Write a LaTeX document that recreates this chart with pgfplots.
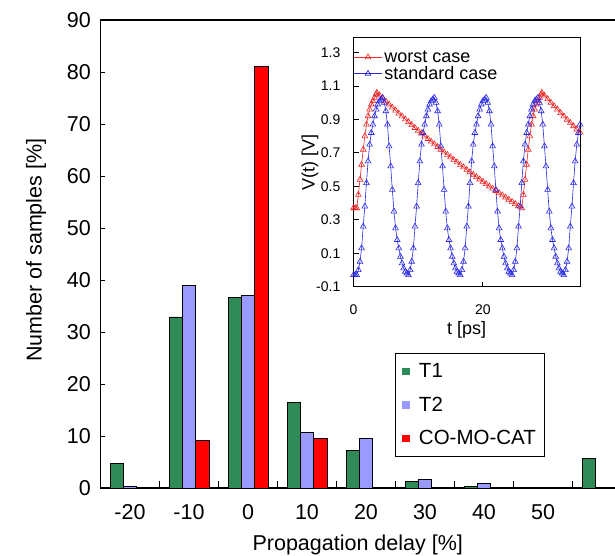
\documentclass[border=0pt]{standalone}
\usepackage{fontspec}
\setmainfont{Liberation Sans}
\usepackage{pgfplots}
\pgfplotsset{compat=1.18}
\definecolor{tgreen}{RGB}{46,139,87}
\definecolor{tblue}{RGB}{153,153,255}
\definecolor{tred}{RGB}{255,0,0}
\definecolor{lblue}{RGB}{40,40,230}
\definecolor{lred}{RGB}{240,35,35}
\newcommand\mainfs{\fontsize{21.5}{24}\selectfont}
\newcommand\legfs{\fontsize{20.5}{23}\selectfont}
\newcommand\tickfs{\fontsize{14}{16}\selectfont}
\newcommand\insetfs{\fontsize{18}{20}\selectfont}
\pgfplotsset{longline/.style={legend image code/.code={%
  \draw[mark repeat=2,mark phase=2] plot coordinates {(0pt,0pt) (14pt,0pt) (28pt,0pt)};}}}
\begin{document}
\begin{tikzpicture}
\begin{axis}[
  at={(0pt,0pt)}, anchor=south west,
  scale only axis, width=531pt, height=468pt,
  xmin=-25, xmax=65, ymin=0, ymax=90,
  xtick={-20,-10,...,50},
  xticklabels={-20,-10,0,10,20,30,40,50},
  minor xtick={-15,-5,...,55},
  ytick={0,10,...,90},
  yticklabels={0,10,20,30,40,50,60,70,80,90},
  tick align=inside, xtick pos=bottom, ytick pos=left,
  major tick length=5pt, minor tick length=7pt,
  major x tick style={draw=none},
  minor x tick style={black, line width=1pt},
  major y tick style={black, line width=1pt},
  axis line style={line width=1.2pt},
  ticklabel style={font=\mainfs, inner sep=0pt},
  xticklabel style={yshift=-16.7pt},
  yticklabel style={xshift=-9.5pt},
  xlabel={Propagation delay [\%]},
  ylabel={Number of samples [\%]},
  label style={font=\mainfs},
  xlabel style={at={(axis description cs:0.4845,-0.1218)}, anchor=center},
  ylabel style={at={(axis description cs:-0.1215,0.508)}, anchor=center},
  every axis plot post/.append style={legend image code/.code={\path[fill,draw=none] (0pt,-3.8pt) rectangle (7.5pt,3.8pt);}},
  legend style={at={(0.5546,0.2878)}, anchor=north west, draw=black, line width=1pt, fill=white, font=\legfs, inner xsep=7pt, inner ysep=8pt, row sep=13.7pt, column sep=7pt},
  legend cell align=left,
]
\addplot[ybar, bar width=2.25, bar shift=-2.25, fill=tgreen, draw=black, line width=0.8pt]
  coordinates {(-20,4.75) (-10,32.9) (0,36.7) (10,16.5) (20,7.2) (30,1.2) (40,0.3) (60,5.7)};
\addlegendentry{T1}
\addplot[ybar, bar width=2.25, bar shift=0, fill=tblue, draw=black, line width=0.8pt]
  coordinates {(-20,0.3) (-10,39.0) (0,37.0) (10,10.7) (20,9.5) (30,1.7) (40,0.9)};
\addlegendentry{T2}
\addplot[ybar, bar width=2.25, bar shift=2.25, fill=tred, draw=black, line width=0.8pt]
  coordinates {(-10,9.2) (0,81.0) (10,9.55)};
\addlegendentry{CO-MO-CAT}
\end{axis}

\begin{axis}[
  at={(253pt,201.3pt)}, anchor=south west,
  scale only axis, width=226.5pt, height=249.2pt,
  xmin=0, xmax=35, ymin=-0.1, ymax=1.39,
  xtick={0,20}, xticklabels={0,20},
  ytick={-0.1,0.1,0.3,0.5,0.7,0.9,1.1,1.3},
  yticklabels={-0.1,0.1,0.3,0.5,0.7,0.9,1.1,1.3},
  tick align=inside, xtick pos=bottom, ytick pos=left,
  major tick length=5pt,
  tick style={black, line width=0.9pt},
  axis line style={line width=1pt},
  axis background/.style={fill=white},
  ticklabel style={font=\tickfs, inner sep=0pt},
  xticklabel style={yshift=-18.3pt},
  yticklabel style={xshift=-13pt},
  xlabel={t [ps]}, ylabel={V(t) [V]},
  label style={font=\insetfs},
  xlabel style={at={(axis description cs:0.5,-0.1726)}, anchor=center},
  ylabel style={at={(axis description cs:-0.192,0.5)}, anchor=center},
  legend style={at={(0,1)}, anchor=north west, xshift=0pt, yshift=-10.9pt, draw=none, fill=none, inner xsep=0pt, inner ysep=0pt, row sep=-1.4pt, font=\insetfs},
  legend cell align=left,
]
\addplot[lred, line width=0.6pt, mark=triangle, mark size=3.3pt, mark options={solid, line width=0.6pt}, longline] table {
t V
0 0.37
0.25 0.37
0.5 0.37
0.75 0.45
1.0 0.54
1.25 0.63
1.5 0.72
1.75 0.80
2.0 0.87
2.25 0.92
2.5 0.96
2.75 0.99
3.0 1.01
3.25 1.03
3.5 1.05
3.6 1.06
4.0 1.045
4.5 1.027
5.0 1.008
5.5 0.990
6.0 0.972
6.5 0.954
7.0 0.936
7.5 0.919
8.0 0.901
8.5 0.884
9.0 0.867
9.5 0.850
10.0 0.833
10.5 0.817
11.0 0.800
11.5 0.784
12.0 0.768
12.5 0.752
13.0 0.736
13.5 0.720
14.0 0.704
14.5 0.689
15.0 0.674
15.5 0.659
16.0 0.644
16.5 0.629
17.0 0.614
17.5 0.599
18.0 0.585
18.5 0.570
19.0 0.556
19.5 0.542
20.0 0.528
20.5 0.514
21.0 0.500
21.5 0.487
22.0 0.473
22.5 0.460
23.0 0.447
23.5 0.434
24.0 0.421
24.5 0.408
25.0 0.395
25.5 0.382
26.0 0.370
26.25 0.45
26.5 0.54
26.75 0.63
27.0 0.72
27.25 0.80
27.5 0.87
27.75 0.92
28.0 0.96
28.25 0.99
28.5 1.01
28.75 1.03
29.0 1.05
29.1 1.06
29.5 1.043
30.0 1.022
30.5 1.001
31.0 0.980
31.5 0.960
32.0 0.939
32.5 0.919
33.0 0.899
33.5 0.880
34.0 0.860
34.5 0.841
35.0 0.822
};
\addlegendentry{worst case}
\addplot[lblue, line width=0.6pt, mark=triangle, mark size=3.3pt, mark options={solid, line width=0.6pt}, longline] table {
t V
0 -0.03
0.25 -0.03
0.5 -0.03
0.75 0.00
1.0 0.05
1.25 0.13
1.5 0.26
1.75 0.38
2.0 0.52
2.25 0.65
2.5 0.75
2.75 0.82
3.0 0.87
3.25 0.92
3.5 0.96
3.75 0.99
4.0 1.01
4.25 1.02
4.5 1.03
4.75 1.00
5.0 0.95
5.25 0.87
5.5 0.74
5.75 0.62
6.0 0.48
6.25 0.35
6.5 0.25
6.75 0.18
7.0 0.13
7.25 0.08
7.5 0.04
7.75 0.01
8.0 -0.01
8.25 -0.02
8.5 -0.03
8.75 0.00
9.0 0.05
9.25 0.13
9.5 0.26
9.75 0.38
10.0 0.52
10.25 0.65
10.5 0.75
10.75 0.82
11.0 0.87
11.25 0.92
11.5 0.96
11.75 0.99
12.0 1.01
12.25 1.02
12.5 1.03
12.75 1.00
13.0 0.95
13.25 0.87
13.5 0.74
13.75 0.62
14.0 0.48
14.25 0.35
14.5 0.25
14.75 0.18
15.0 0.13
15.25 0.08
15.5 0.04
15.75 0.01
16.0 -0.01
16.25 -0.02
16.5 -0.03
16.75 0.00
17.0 0.05
17.25 0.13
17.5 0.26
17.75 0.38
18.0 0.52
18.25 0.65
18.5 0.75
18.75 0.82
19.0 0.87
19.25 0.92
19.5 0.96
19.75 0.99
20.0 1.01
20.25 1.02
20.5 1.03
20.75 1.00
21.0 0.95
21.25 0.87
21.5 0.74
21.75 0.62
22.0 0.48
22.25 0.35
22.5 0.25
22.75 0.18
23.0 0.13
23.25 0.08
23.5 0.04
23.75 0.01
24.0 -0.01
24.25 -0.02
24.5 -0.03
24.75 0.00
25.0 0.05
25.25 0.13
25.5 0.26
25.75 0.38
26.0 0.52
26.25 0.65
26.5 0.75
26.75 0.82
27.0 0.87
27.25 0.92
27.5 0.96
27.75 0.99
28.0 1.01
28.25 1.02
28.5 1.03
28.75 1.00
29.0 0.95
29.25 0.87
29.5 0.74
29.75 0.62
30.0 0.48
30.25 0.35
30.5 0.25
30.75 0.18
31.0 0.13
31.25 0.08
31.5 0.04
31.75 0.01
32.0 -0.01
32.25 -0.02
32.5 -0.03
32.75 0.00
33.0 0.05
33.25 0.13
33.5 0.26
33.75 0.38
34.0 0.52
34.25 0.65
34.5 0.75
34.75 0.82
35.0 0.87
};
\addlegendentry{standard case}
\end{axis}
\pgfresetboundingbox
\path[use as bounding box] (-100.5pt,-68pt) rectangle (514.5pt,488pt);
\end{tikzpicture}
\end{document}
